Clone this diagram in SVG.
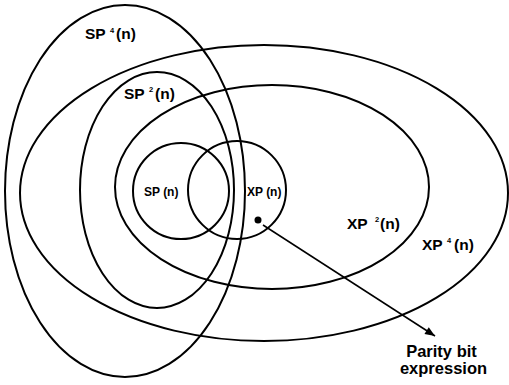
<svg xmlns="http://www.w3.org/2000/svg" width="509" height="385" viewBox="0 0 509 385">
<style>
.e{fill:none;stroke:#000;stroke-width:2}
text{font-family:"Liberation Sans",Arial,sans-serif;font-weight:bold;fill:#000}
.big{font-size:15.5px}
.sup{font-size:7.5px}
.sm{font-size:12px}
.lbl{font-size:16.5px}
</style>
<defs>
<marker id="ah" viewBox="0 0 10 10" refX="10" refY="5" markerWidth="11" markerHeight="10" markerUnits="userSpaceOnUse" orient="auto">
<path d="M0,1 L10,5 L0,9 z" fill="#000"/>
</marker>
</defs>
<g id="sp4"><ellipse class="e" cx="125" cy="191" rx="120" ry="186"/>
<text class="big" x="85" y="39">SP</text><text class="sup" x="110" y="33">4</text><text class="big" x="116" y="39">(n)</text></g>
<g id="xp4"><ellipse class="e" cx="264" cy="193" rx="244" ry="148"/>
<text class="big" x="422" y="250">XP</text><text class="sup" x="447" y="243">4</text><text class="big" x="454" y="250">(n)</text></g>
<g id="sp2"><ellipse class="e" cx="157" cy="190" rx="77" ry="118"/>
<text class="big" x="124" y="99">SP</text><text class="sup" x="149" y="92">2</text><text class="big" x="155" y="99">(n)</text></g>
<g id="xp2"><ellipse class="e" cx="272" cy="187" rx="157" ry="102"/>
<text class="big" x="347" y="229">XP</text><text class="sup" x="375" y="222">2</text><text class="big" x="380" y="229">(n)</text></g>
<g id="sp"><ellipse class="e" cx="181" cy="191" rx="48" ry="48"/>
<text class="sm" x="144" y="196">SP (n)</text></g>
<g id="xp"><ellipse class="e" cx="237" cy="190" rx="49" ry="49"/>
<text class="sm" x="247" y="196">XP (n)</text></g>
<g id="parity"><circle cx="258" cy="220" r="3.5" fill="#000"/>
<text class="lbl" x="441.5" y="357" text-anchor="middle">Parity bit</text>
<text class="lbl" x="443.5" y="374" text-anchor="middle">expression</text></g>
<g id="connectors"><line x1="263" y1="225" x2="435" y2="336" stroke="#000" stroke-width="1.5" marker-end="url(#ah)"/></g>
</svg>
